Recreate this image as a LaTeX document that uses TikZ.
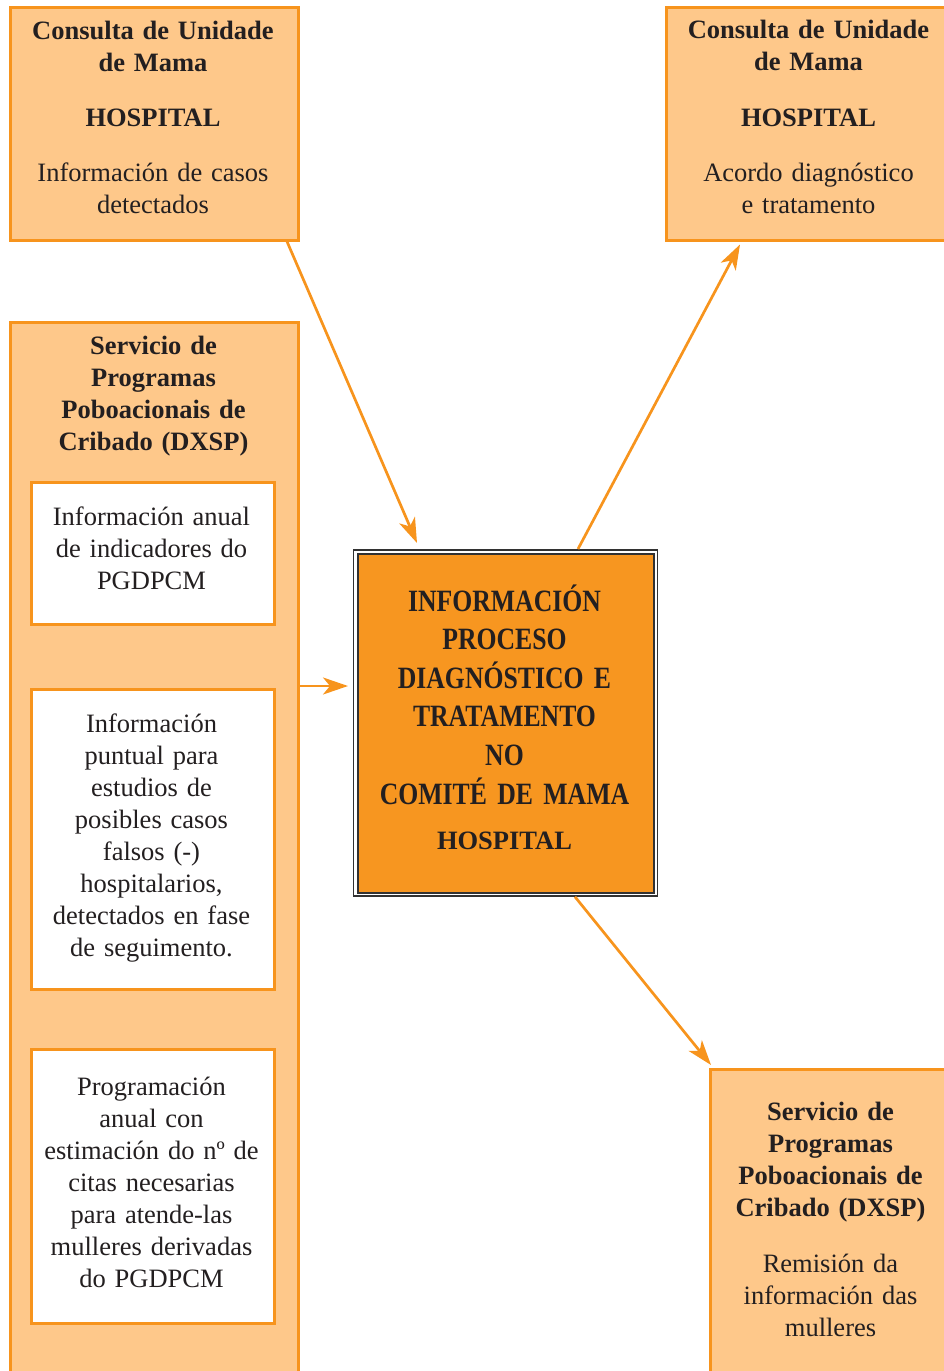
\documentclass[tikz,border=0pt]{standalone}
\usepackage{fontspec}
\setmainfont{Liberation Serif}
\newfontfamily\condbf{Liberation Serif}[FakeStretch=0.83]
\usetikzlibrary{arrows.meta,calc}
\definecolor{lightor}{RGB}{254,200,138}
\definecolor{orline}{RGB}{247,148,29}
\definecolor{orfill}{RGB}{247,150,32}
\definecolor{ink}{RGB}{35,31,32}
\definecolor{frame}{RGB}{50,50,50}
\tikzset{
  lbox/.style={draw=orline,line width=2.5pt,fill=lightor,rectangle,anchor=north west,inner sep=0pt},
  wbox/.style={draw=orline,line width=2.5pt,fill=white,rectangle,anchor=north west,inner sep=0pt},
  txt/.style={text width=280pt,align=center,inner sep=0pt,anchor=base,text=ink,font=\fontsize{26.5}{32}\selectfont},
  btxt/.style={txt,font=\fontsize{26.5}{32}\selectfont\bfseries},
  ctxt/.style={txt,text width=300pt,font=\fontsize{31}{38.6}\selectfont\condbf\bfseries},
  arr/.style={draw=orline,line width=2.7pt,-{Stealth[length=25pt,width=17pt,inset=7pt]}}
}
\begin{document}
\begin{tikzpicture}[x=1pt,y=-1pt]
\useasboundingbox (0,0) rectangle (943,1371);
% boxes
\node[lbox,minimum width=288pt,minimum height=233pt] (tl) at (9,6) {};
\node[lbox,minimum width=288pt,minimum height=233pt] (tr) at (665,6) {};
\node[lbox,minimum width=288pt,minimum height=1100pt] (lft) at (9,321) {};
\node[wbox,minimum width=243pt,minimum height=142pt] (w1) at (30,481) {};
\node[wbox,minimum width=243pt,minimum height=300pt] (w2) at (30,688) {};
\node[wbox,minimum width=243pt,minimum height=274pt] (w3) at (30,1048) {};
\node[lbox,minimum width=288pt,minimum height=400pt] (br) at (709,1068) {};
\node[draw=frame,line width=1.8pt,fill=white,rectangle,anchor=north west,inner sep=0pt,minimum width=304pt,minimum height=346pt] (cout) at (352.5,549) {};
\node[draw=frame,line width=2.2pt,fill=orfill,rectangle,anchor=north west,inner sep=0pt,minimum width=296.5pt,minimum height=338.5pt] (center) at (356.5,553) {};
% texts
\node[btxt] (tlt) at (153,39) {Consulta de Unidade\\de Mama};
\node[btxt] (tlh) at (153,126) {HOSPITAL};
\node[txt] (tlb) at (153,181) {Información de casos\\detectados};
\node[btxt] (trt) at (808.5,38.5) {Consulta de Unidade\\de Mama};
\node[btxt] (trh) at (808.5,126) {HOSPITAL};
\node[txt] (trb) at (808.5,181) {Acordo diagnóstico\\e tratamento};
\node[btxt] (lt) at (153.5,354) {Servicio de\\Programas\\Poboacionais de\\Cribado (DXSP)};
\node[txt,text width=235pt] (w1t) at (151.5,525) {Información anual\\de indicadores do\\PGDPCM};
\node[txt,text width=235pt] (w2t) at (151.5,732) {Información\\puntual para\\estudios de\\posibles casos\\falsos (-)\\hospitalarios,\\detectados en fase\\de seguimento.};
\node[txt,text width=235pt] (w3t) at (151.5,1095) {Programación\\anual con\\estimación do nº de\\citas necesarias\\para atende-las\\mulleres derivadas\\do PGDPCM};
\node[btxt] (brt) at (830.5,1120) {Servicio de\\Programas\\Poboacionais de\\Cribado (DXSP)};
\node[txt] (brb) at (830.5,1272) {Remisión da\\información das\\mulleres};
\node[ctxt] (ct) at (504.5,611) {INFORMACIÓN\\PROCESO\\DIAGNÓSTICO E\\TRATAMENTO\\NO\\COMITÉ DE MAMA};
\node[btxt] (ch) at (504.5,849) {HOSPITAL};
% arrows
\draw[arr] ($(tl.south west)+(278,0)$) -- ($(cout.north west)+(64.5,-6)$);
\draw[arr] ($(cout.north west)+(225.5,0)$) -- ($(tr.south west)+(75,3)$);
\draw[arr] ($(lft.north east)+(0,365)$) -- ($(cout.north west)+(-4.5,137)$);
\draw[arr] ($(cout.south west)+(222.5,0)$) -- ($(br.north west)+(2,-3)$);
\end{tikzpicture}
\end{document}
